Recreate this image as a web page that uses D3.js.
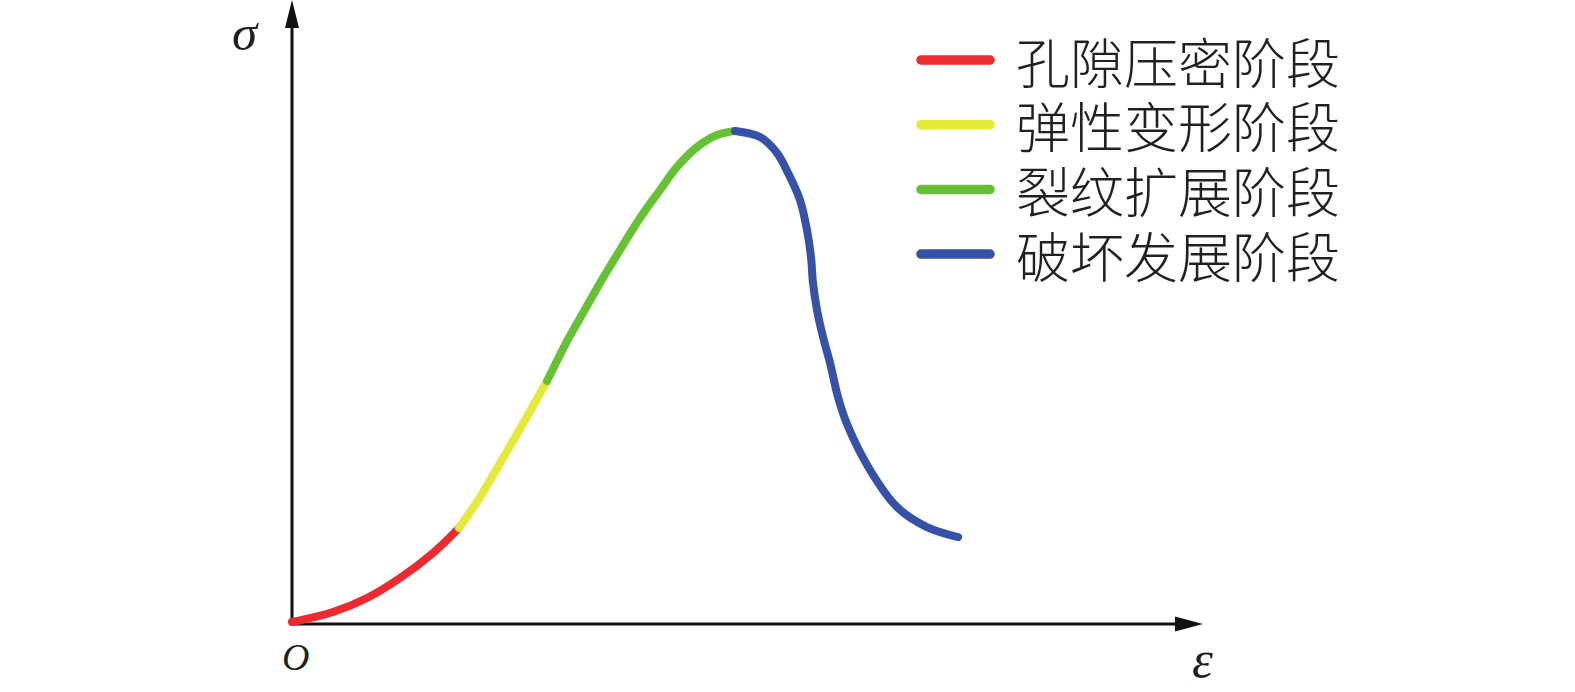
<!DOCTYPE html>
<html>
<head>
<meta charset="utf-8">
<script src="https://cdn.jsdelivr.net/npm/d3@7"></script>
<style>
  body { margin: 0; background: #fff; }
  svg { display: block; }
</style>
</head>
<body>
<svg id="chart"></svg>
<script>
// stage names and colours
const stages = ['孔隙压密阶段', '弹性变形阶段', '裂纹扩展阶段', '破坏发展阶段'];
const stageColors = ['#ed2a2f', '#e4ea35', '#65c332', '#3551a8'];

// strain / stress readings for each stage (arbitrary units, 0..100)
const strainRed = [0, 4.50, 8.23, 11.86, 15.48, 18.33];
const stressRed = [0.32, 1.92, 4.17, 7.37, 11.38, 15.38];
const strainYellow = [18.33, 20.64, 23.16, 25.58, 27.99];
const stressYellow = [15.38, 20.35, 26.60, 32.69, 38.94];
const strainGreen = [27.99, 30.19, 31.94, 33.81, 36.00, 38.20, 40.40, 42.26, 44.46, 46.65, 48.63];
const stressGreen = [38.94, 45.35, 49.84, 54.65, 59.94, 65.06, 69.55, 73.24, 76.44, 78.37, 79.01];
const strainBlue = [48.63, 51.37, 53.24, 54.45, 55.76, 56.53, 56.97, 57.19, 57.63, 58.29, 59.06, 59.93, 60.92, 63.45, 66.41, 69.70, 73.11];
const stressBlue = [79.01, 78.04, 75.48, 72.28, 67.95, 63.14, 58.81, 54.65, 50.32, 45.99, 41.83, 36.38, 32.05, 24.68, 18.75, 15.54, 13.94];

const width = 1575, height = 692;
const x0 = 292, y0 = 624, xEnd = 1203, yEnd = 0;

const svg = d3.select('#chart')
  .attr('width', width)
  .attr('height', height);

const x = d3.scaleLinear().domain([0, 100]).range([x0, xEnd]);
const y = d3.scaleLinear().domain([0, 100]).range([y0, yEnd]);

// axes: plain lines with arrow heads
const axisColor = '#111';
svg.append('line')
  .attr('x1', x(0)).attr('y1', y(0))
  .attr('x2', x(0)).attr('y2', yEnd + 26)
  .attr('stroke', axisColor).attr('stroke-width', 3);
svg.append('path')
  .attr('d', `M${x(0)},${yEnd} L${x(0) - 7},${yEnd + 28} L${x(0) + 7},${yEnd + 28}Z`)
  .attr('fill', axisColor);

svg.append('line')
  .attr('x1', x(0) - 1.5).attr('y1', y(0))
  .attr('x2', xEnd - 26).attr('y2', y(0))
  .attr('stroke', axisColor).attr('stroke-width', 3);
svg.append('path')
  .attr('d', `M${xEnd},${y(0)} L${xEnd - 28},${y(0) - 7.5} L${xEnd - 28},${y(0) + 7.5}Z`)
  .attr('fill', axisColor);

// axis labels
const labelFont = '"Liberation Serif", "DejaVu Serif", serif';
svg.append('text')
  .attr('x', 232).attr('y', 50)
  .style('font-family', labelFont).style('font-style', 'italic')
  .style('font-size', '51px').attr('fill', '#231f20')
  .text('σ');
svg.append('text')
  .attr('x', 282).attr('y', 670)
  .style('font-family', labelFont).style('font-style', 'italic')
  .style('font-size', '38px').attr('fill', '#231f20')
  .text('O');
svg.append('text')
  .attr('x', 1192).attr('y', 677)
  .style('font-family', labelFont).style('font-style', 'italic')
  .style('font-size', '53px').attr('fill', '#231f20')
  .text('ε');

// curve segments
const segments = [
  [strainRed, stressRed],
  [strainYellow, stressYellow],
  [strainGreen, stressGreen],
  [strainBlue, stressBlue]
];

const line = d3.line()
  .x(d => x(d[0]))
  .y(d => y(d[1]))
  .curve(d3.curveCatmullRom.alpha(0.5));

segments.forEach((seg, i) => {
  const pts = seg[0].map((v, j) => [v, seg[1][j]]);
  svg.append('path')
    .datum(pts)
    .attr('d', line)
    .attr('fill', 'none')
    .attr('stroke', stageColors[i])
    .attr('stroke-width', 8)
    .attr('stroke-linecap', 'round');
});

// legend
const legend = svg.append('g').attr('transform', 'translate(917, 60)');
const rows = legend.selectAll('g')
  .data(stages)
  .enter()
    .append('g')
    .attr('transform', (d, i) => `translate(0, ${i * 64.7})`);

rows.append('line')
  .attr('x1', 4).attr('x2', 73)
  .attr('y1', 0).attr('y2', 0)
  .attr('stroke', (d, i) => stageColors[i])
  .attr('stroke-width', 9.5)
  .attr('stroke-linecap', 'round');

rows.append('text')
  .attr('x', 99)
  .attr('y', 0)
  .attr('dominant-baseline', 'central')
  .style('font-family', '"Noto Sans CJK SC", sans-serif')
  .style('font-weight', 300)
  .style('font-size', '54px')
  .attr('fill', '#231f20')
  .text(d => d);
</script>
</body>
</html>
